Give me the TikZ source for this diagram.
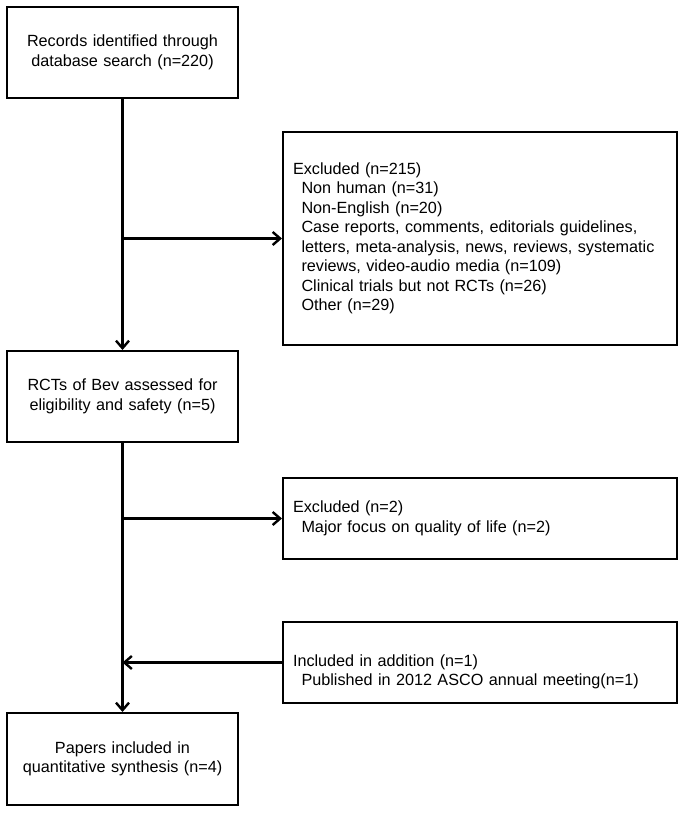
\documentclass[tikz,border=0pt]{standalone}
\usepackage{fontspec}
\setmainfont{Liberation Sans}
\usetikzlibrary{arrows.meta,positioning}
\newcommand{\ind}{\hspace*{8.5pt}}

\begin{document}
\begin{tikzpicture}[x=1pt, y=-1pt,
    every node/.style={font=\fontsize{16.2}{19.5}\selectfont},
    mainbox/.style={draw, line width=2pt, minimum width=231pt, text width=215pt, align=center, inner xsep=8pt},
    sidebox/.style={draw, line width=2pt, minimum width=394pt, text width=374pt, align=left, inner xsep=10pt},
    flow/.style={line width=2.4pt, -{Straight Barb[length=7.5pt, width=13pt, line width=2.4pt]}}]
      \useasboundingbox (0, 0) rectangle (683, 813);

      % left column
      \node[mainbox, minimum height=91pt] (rec) at (122.5, 52.5) {Records identified through\\ database search (n=220)};
      \node[mainbox, minimum height=91pt] (rct) at (122.5, 396.5) {RCTs of Bev assessed for\\ eligibility and safety (n=5)};
      \node[mainbox, minimum height=92pt] (pap) at (122.5, 759) {Papers included in\\ quantitative synthesis (n=4)};

      % right column
      \node[sidebox, minimum height=213pt] (excla) at (480, 238.5) {Excluded (n=215)\\
        \ind Non human (n=31)\\
        \ind Non-English (n=20)\\
        \ind Case reports, comments, editorials guidelines,\\
        \ind letters, meta-analysis, news, reviews, systematic\\
        \ind reviews, video-audio media (n=109)\\
        \ind Clinical trials but not RCTs (n=26)\\
        \ind Other (n=29)};
      \node[sidebox, minimum height=81pt] (exclb) at (480, 518.5) {Excluded (n=2)\\
        \ind Major focus on quality of life (n=2)};
      \node[sidebox, minimum height=81pt] (incl) at (480, 662.5) {};
      \node[inner sep=0pt, text width=374pt, align=left] (incltext) at ([yshift=-9.5pt]incl.center) {Included in addition (n=1)\\
        \ind Published in 2012 ASCO annual meeting(n=1)};

      % connectors
      \coordinate (ja) at (rec.south |- excla.west);
      \coordinate (jb) at (rct.south |- exclb.west);
      \coordinate (jc) at (rct.south |- incl.west);

      \draw[flow] (rec.south) -- (rct.north);
      \draw[flow] (ja) -- (excla.west);
      \draw[flow] (rct.south) -- (pap.north);
      \draw[flow] (jb) -- (exclb.west);
      \draw[flow] (incl.west) -- (jc);
    \end{tikzpicture}
\end{document}
